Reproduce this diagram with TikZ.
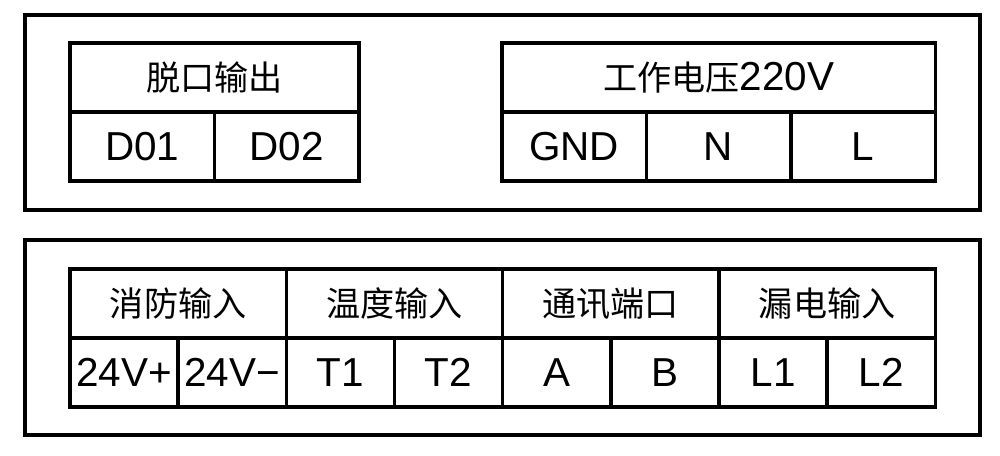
\documentclass[tikz,border=0pt]{standalone}
\usepackage{fontspec}
\setmainfont{Liberation Sans}
\newfontfamily\cjk{Noto Sans CJK SC}
\usetikzlibrary{positioning}
\newcommand{\zh}[1]{{\cjk\fontsize{9.7}{12}\selectfont #1}}

\begin{document}
\begin{tikzpicture}[x=0.01cm, y=-0.01cm,
    frame/.style={draw, line width=1.1pt},
    cell/.style={draw, line width=1pt, inner sep=0pt, outer sep=0pt,
        minimum height=0.69cm, font=\fontsize{11.5}{12}\selectfont},
    wide/.style={cell, minimum width=2.162cm},
    narrow/.style={cell, minimum width=1.081cm}]
    \useasboundingbox (0,0) rectangle (1000,456);

    % Outer frames
    \draw[frame] (25,15) rectangle (980,210);
    \draw[frame] (25,240) rectangle (980,435);

    % Trip output
    \node[cell, minimum width=2.89cm, anchor=north west] (tripHead) at (70,43) {\zh{脱口输出}};
    \node[cell, minimum width=1.445cm, anchor=north west] (d01) at (tripHead.south west) {D01};
    \node[cell, minimum width=1.445cm, right=0pt of d01] (d02) {D02};

    % Supply voltage
    \node[cell, minimum width=4.33cm, anchor=north west] (powerHead) at (502,43) {\zh{工作电压}220V};
    \node[cell, minimum width=1.443cm, anchor=north west] (gnd) at (powerHead.south west) {GND};
    \node[cell, minimum width=1.443cm, right=0pt of gnd] (nPin) {N};
    \node[cell, minimum width=1.444cm, right=0pt of nPin] (lPin) {L};

    % Input headers
    \node[wide, anchor=north west] (fireHead) at (70,269) {\zh{消防输入}};
    \node[wide, right=0pt of fireHead] (tempHead) {\zh{温度输入}};
    \node[wide, right=0pt of tempHead] (commHead) {\zh{通讯端口}};
    \node[wide, right=0pt of commHead] (leakHead) {\zh{漏电输入}};

    % Terminals
    \node[narrow, anchor=north west] (vPlus) at (fireHead.south west) {24V+};
    \node[narrow, right=0pt of vPlus] (vMinus) {24V−};
    \node[narrow, right=0pt of vMinus] (t1) {T1};
    \node[narrow, right=0pt of t1] (t2) {T2};
    \node[narrow, right=0pt of t2] (aPin) {A};
    \node[narrow, right=0pt of aPin] (bPin) {B};
    \node[narrow, right=0pt of bPin] (l1) {L1};
    \node[narrow, right=0pt of l1] (l2) {L2};
\end{tikzpicture}
\end{document}
